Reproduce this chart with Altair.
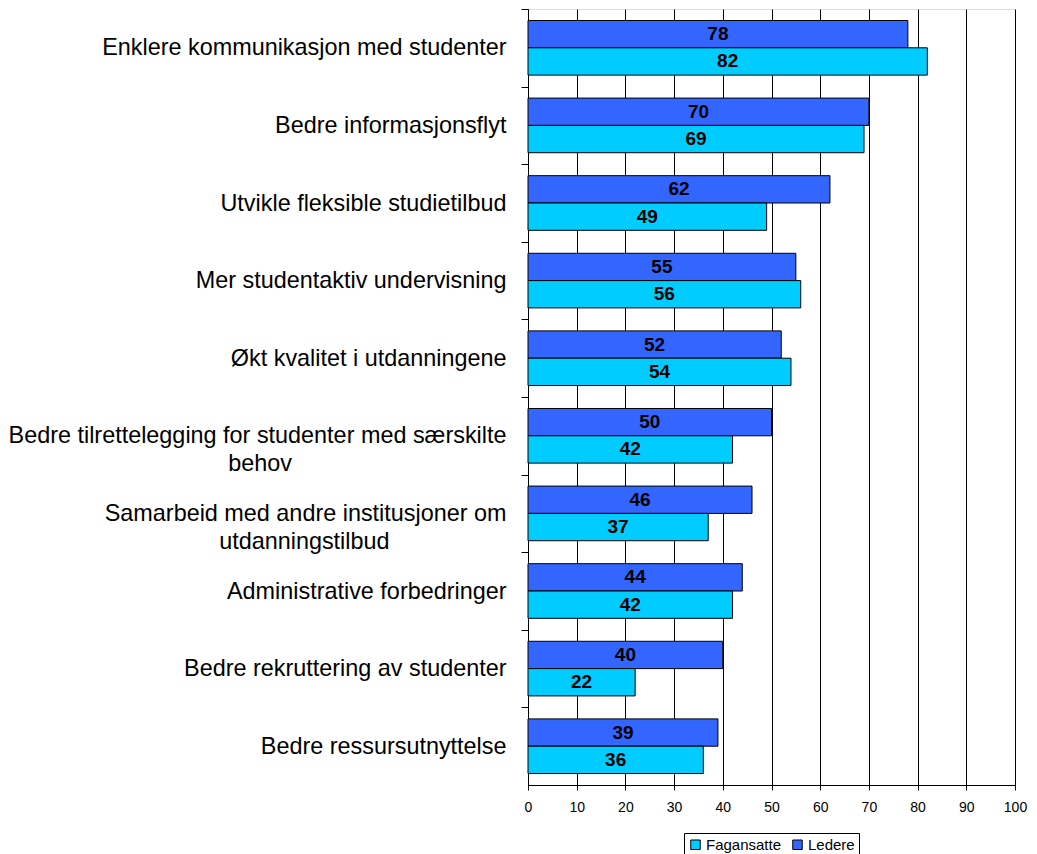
import altair as alt
import pandas as pd

NB = "\u00a0"
WJ = "\u2060"
categories = [
    "Enklere kommunikasjon med studenter",
    "Bedre informasjonsflyt",
    "Utvikle fleksible studietilbud",
    "Mer studentaktiv undervisning",
    "Økt kvalitet i utdanningene",
    "Bedre tilrettelegging for studenter med særskilte|behov" + NB * 33 + WJ,
    "Samarbeid med andre institusjoner om|utdanningstilbud" + NB * 18 + WJ,
    "Administrative forbedringer",
    "Bedre rekruttering av studenter",
    "Bedre ressursutnyttelse",
]
ledere = [78, 70, 62, 55, 52, 50, 46, 44, 40, 39]
fagansatte = [82, 69, 49, 56, 54, 42, 37, 42, 22, 36]
series = ["Fagansatte", "Ledere"]
colors = ["#00CCFF", "#3366FF"]

rows = []
for c, l, f in zip(categories, ledere, fagansatte):
    rows.append({"Kategori": c, "Serie": "Ledere", "Verdi": l})
    rows.append({"Kategori": c, "Serie": "Fagansatte", "Verdi": f})
df = pd.DataFrame(rows)

FONT = "Liberation Sans"

y_enc = alt.Y(
    "Kategori:N",
    sort=categories,
    scale=alt.Scale(paddingInner=0.296, paddingOuter=0.148),
    axis=alt.Axis(
        title=None,
        labelExpr="split(datum.label, '|')",
        labelFontSize=23.4,
        labelFont=FONT,
        labelColor="black",
        labelLineHeight=28,
        labelPadding=15,
        labelLimit=600,
        tickSize=7,
        tickColor="black",
        tickOffset=-38.8,
        labelOffset=38.8,
        domainColor="black",
        grid=False,
    ),
)
yoff = alt.YOffset("Serie:N", sort=["Ledere", "Fagansatte"], scale=alt.Scale(paddingInner=0, paddingOuter=0))

x_enc = alt.X(
    "Verdi:Q",
    scale=alt.Scale(domain=[0, 100], nice=False),
    axis=alt.Axis(
        title=None,
        values=list(range(0, 101, 10)),
        labelFontSize=14,
        labelFont=FONT,
        labelColor="black",
        labelPadding=10,
        labelFlush=False,
        tickSize=5,
        tickColor="black",
        domainColor="black",
        grid=True,
        gridColor="black",
        gridOpacity=1,
        gridWidth=1,
    ),
)

bars = alt.Chart(df).mark_bar(stroke="black", strokeWidth=1).encode(
    x=x_enc,
    y=y_enc,
    yOffset=yoff,
    color=alt.Color(
        "Serie:N",
        scale=alt.Scale(domain=series, range=colors),
        legend=alt.Legend(
            title=None,
            orient="none",
            legendX=156,
            legendY=824,
            direction="horizontal",
            strokeColor="black",
            padding=4,
            symbolType="square",
            symbolSize=90,
            symbolStrokeColor="black",
            symbolStrokeWidth=1,
            labelFontSize=15,
            labelFont=FONT,
            labelColor="black",
            columnPadding=8,
            labelOffset=3,
        ),
    ),
)

labels = alt.Chart(df).transform_calculate(mid="datum.Verdi / 2").mark_text(
    font=FONT, fontSize=19, fontWeight="bold", color="black", baseline="middle"
).encode(
    x=alt.X("mid:Q"),
    y=alt.Y("Kategori:N", sort=categories),
    yOffset=alt.YOffset("Serie:N", sort=["Ledere", "Fagansatte"]),
    text=alt.Text("Verdi:Q"),
)

chart = (
    alt.layer(bars, labels)
    .properties(width=487, height=776, padding={"left": 0, "top": 0, "right": 0, "bottom": 0})
    .configure_view(stroke=None)
    .configure(font=FONT)
)

chart.save("out.html", embed_options={"renderer": "svg", "actions": False})
